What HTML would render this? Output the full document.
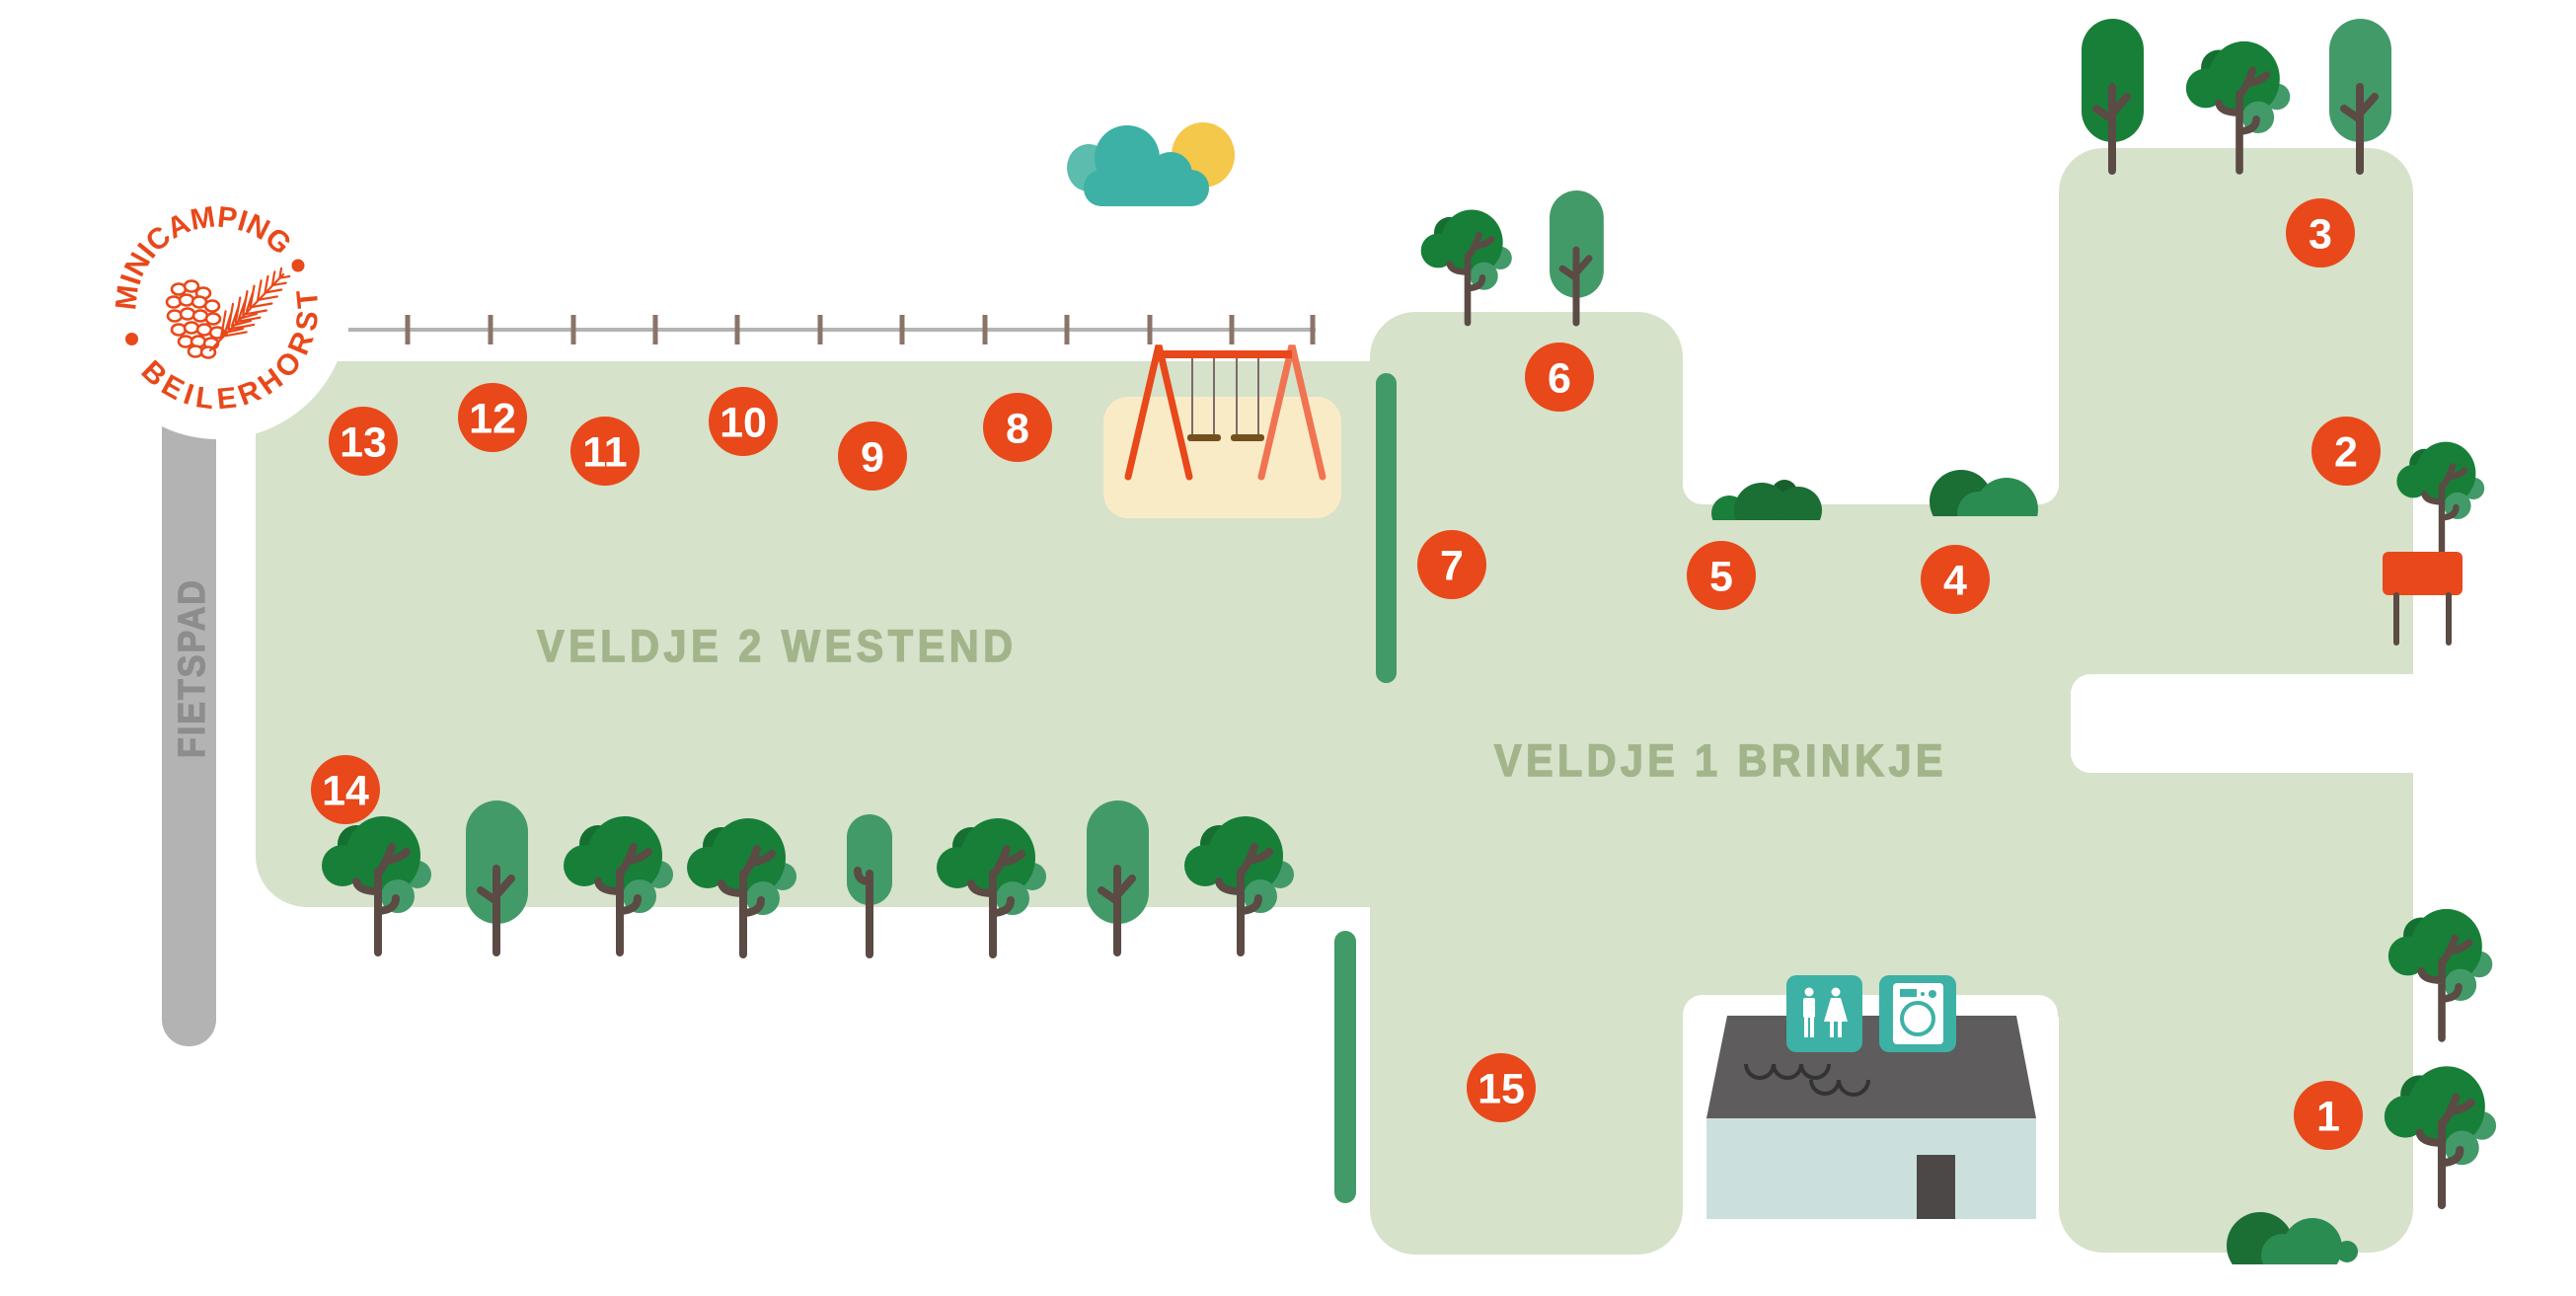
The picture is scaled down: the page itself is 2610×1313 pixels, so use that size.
<!DOCTYPE html>
<html><head><meta charset="utf-8"><style>
html,body{margin:0;padding:0;background:#fff;}
svg{display:block;}
text{font-family:"Liberation Sans",sans-serif;font-weight:bold;}
</style></head><body>
<svg width="2610" height="1313" viewBox="0 0 2610 1313" xmlns="http://www.w3.org/2000/svg">
<defs>
<g id="rt">
<circle cx="-22" cy="-110" r="19" fill="#146f30"/>
<circle cx="40" cy="-79" r="14" fill="#429a68"/>
<ellipse cx="5" cy="-98" rx="38" ry="40" fill="#177f38"/>
<circle cx="-36" cy="-88" r="21" fill="#177f38"/>
<circle cx="20" cy="-57" r="17" fill="#429a68"/>
<path d="M0,0 V-82 M0,-62 Q-20,-62 -22,-72 M0,-80 Q8,-90 14,-107 M8,-93 Q22,-95 29,-102 M0,-42 Q18,-43 18,-55" stroke="#5b4b44" stroke-width="8" fill="none" stroke-linecap="round"/>
</g>
<g id="tt">
<rect x="-31" y="-154" width="63" height="125" rx="31.5"/>
<path d="M0,0 V-85 M0,-52 L-16,-63 M0,-58 L15,-75" stroke="#5b4b44" stroke-width="8" fill="none" stroke-linecap="round"/>
</g>
<clipPath id="cA"><rect x="1700" y="440" width="200" height="87"/></clipPath>
<clipPath id="cB"><rect x="1930" y="440" width="160" height="83"/></clipPath>
<clipPath id="cC"><rect x="2230" y="1200" width="200" height="81"/></clipPath>
</defs>

<!-- fields -->
<g fill="#d6e2ca">
<rect x="259" y="366" width="1180" height="553" rx="52"/>
<rect x="1388" y="316" width="317" height="955" rx="46"/>
<rect x="2086" y="150" width="359" height="1119" rx="45"/>
<rect x="1690" y="490" width="410" height="540"/>
</g>
<g fill="#fff">
<rect x="1705" y="280" width="381" height="231" rx="20"/>
<rect x="1705" y="1008" width="380" height="350" rx="20"/>
<rect x="2098" y="683" width="450" height="100" rx="20"/>
</g>

<!-- fietspad -->
<rect x="164" y="400" width="55" height="660" rx="27" fill="#b3b3b3"/>
<text transform="translate(207,678) rotate(-90) scale(0.9,1)" text-anchor="middle" font-size="38" fill="#8d8d8d" stroke="#8d8d8d" stroke-width="1.2" textLength="200" lengthAdjust="spacing">FIETSPAD</text>

<!-- logo -->
<circle cx="221" cy="313" r="132" fill="#fff"/>
<path id="lt" d="M138,314.9 A82,82 0 0 1 284.6,261.5" fill="none"/>
<path id="lb" d="M141.9,377.6 A102,102 0 0 0 319.6,289.9" fill="none"/>
<text font-size="30" fill="#e8481a"><textPath href="#lt" textLength="204" lengthAdjust="spacingAndGlyphs">MINICAMPING</textPath></text>
<text font-size="30" fill="#e8481a"><textPath href="#lb" textLength="268" lengthAdjust="spacing">BEILERHORST</textPath></text>
<circle cx="133.5" cy="343.5" r="6.5" fill="#e8481a"/>
<circle cx="302" cy="269" r="6.5" fill="#e8481a"/>
<g fill="#fff" stroke="#e8481a" stroke-width="2.6">
<ellipse cx="181" cy="293" rx="7" ry="5.5"/><ellipse cx="194" cy="290" rx="7" ry="5.5"/><ellipse cx="206" cy="297" rx="7" ry="5.5"/>
<ellipse cx="176" cy="306" rx="7" ry="5.5"/><ellipse cx="189" cy="304" rx="7" ry="5.5"/><ellipse cx="202" cy="306" rx="7" ry="5.5"/><ellipse cx="215" cy="310" rx="7" ry="5.5"/>
<ellipse cx="177" cy="320" rx="7" ry="5.5"/><ellipse cx="190" cy="318" rx="7" ry="5.5"/><ellipse cx="203" cy="320" rx="7" ry="5.5"/><ellipse cx="216" cy="323" rx="7" ry="5.5"/>
<ellipse cx="181" cy="334" rx="7" ry="5.5"/><ellipse cx="194" cy="332" rx="7" ry="5.5"/><ellipse cx="207" cy="334" rx="7" ry="5.5"/><ellipse cx="220" cy="337" rx="7" ry="5.5"/>
<ellipse cx="188" cy="346" rx="7" ry="5.5"/><ellipse cx="201" cy="346" rx="7" ry="5.5"/><ellipse cx="214" cy="348" rx="7" ry="5.5"/>
<ellipse cx="198" cy="356" rx="7" ry="5.5"/><ellipse cx="211" cy="357" rx="7" ry="5.5"/>
</g>
<path d="M213,355 L287,278 M224.1,340.9 L228.6,315.3 M231.5,333.5 L236,307.9 M238.9,326.1 L243.3,301.5 M246.3,318.7 L250.5,295.1 M253.7,311.3 L257.5,289.6 M261.1,303.9 L264.6,284.2 M268.5,296.5 L271.5,279.8 M275.9,289.1 L278.3,275.3 M283.3,281.7 L285,271.8 M224.1,340.9 L249.7,336.4 M231.5,333.5 L257.1,329 M238.9,326.1 L263.5,321.7 M246.3,318.7 L269.9,314.5 M253.7,311.3 L275.4,307.5 M261.1,303.9 L280.8,300.4 M268.5,296.5 L285.2,293.5 M275.9,289.1 L289.7,286.7 M283.3,281.7 L293.2,280 M228,337 L234,318 M235,330 L242,310 M242,323 L249,303 M250,315 L256,297 M228,337 L246,333 M235,330 L254,325 M242,323 L260,318" stroke="#e8481a" stroke-width="2.2" fill="none" stroke-linecap="round"/>

<!-- fence -->
<line x1="353" y1="334" x2="1333" y2="334" stroke="#b3b3b3" stroke-width="4"/>
<g stroke="#8a7468" stroke-width="5">
<line x1="413" y1="319" x2="413" y2="349"/><line x1="497" y1="319" x2="497" y2="349"/><line x1="581" y1="319" x2="581" y2="349"/><line x1="664" y1="319" x2="664" y2="349"/><line x1="747" y1="319" x2="747" y2="349"/><line x1="831" y1="319" x2="831" y2="349"/><line x1="914" y1="319" x2="914" y2="349"/><line x1="998" y1="319" x2="998" y2="349"/><line x1="1081" y1="319" x2="1081" y2="349"/><line x1="1165" y1="319" x2="1165" y2="349"/><line x1="1248" y1="319" x2="1248" y2="349"/><line x1="1330" y1="319" x2="1330" y2="349"/>
</g>

<!-- cloud & sun -->
<ellipse cx="1219" cy="157" rx="32" ry="33" fill="#f4c84a"/>
<ellipse cx="1103" cy="170" rx="22" ry="24" fill="#5cbcae"/>
<g fill="#3db1a5">
<circle cx="1142" cy="160" r="33"/>
<circle cx="1186" cy="176" r="22"/>
<rect x="1098" y="172" width="127" height="37" rx="18"/>
</g>

<!-- sandbox & swing -->
<rect x="1118" y="402" width="241" height="123" rx="25" fill="#faebc7"/>
<g stroke="#7d6a6b" stroke-width="2">
<line x1="1208" y1="362" x2="1208" y2="442"/><line x1="1230" y1="362" x2="1230" y2="442"/><line x1="1253" y1="362" x2="1253" y2="442"/><line x1="1275" y1="362" x2="1275" y2="442"/>
</g>
<rect x="1203" y="440" width="34" height="7" rx="3" fill="#74501f"/>
<rect x="1247" y="440" width="34" height="7" rx="3" fill="#74501f"/>
<g stroke-width="7" stroke-linecap="round">
<path d="M1143,483 L1174,350 L1205,483" stroke="#e8481a" fill="none"/>
<path d="M1278,483 L1309,350 L1340,483" stroke="#f07452" fill="none"/>
</g>
<rect x="1174" y="355" width="135" height="8" fill="#e8481a"/>

<!-- green bars -->
<rect x="1394" y="378" width="21" height="314" rx="10.5" fill="#429a68"/>
<rect x="1352" y="943" width="22" height="276" rx="11" fill="#429a68"/>

<!-- labels -->
<text transform="translate(544,670) scale(0.92,1)" font-size="45" fill="#a2b48a" stroke="#a2b48a" stroke-width="1.4" textLength="524" lengthAdjust="spacing">VELDJE 2 WESTEND</text>
<text transform="translate(1514,786) scale(0.92,1)" font-size="45" fill="#a2b48a" stroke="#a2b48a" stroke-width="1.4" textLength="494" lengthAdjust="spacing">VELDJE 1 BRINKJE</text>

<!-- building -->
<polygon points="1750,1029 2043,1029 2063,1133 1729,1133" fill="#5e5c5d"/>
<rect x="1729" y="1133" width="334" height="102" fill="#cbe0dc"/>
<rect x="1942" y="1170" width="39" height="65" fill="#4b4847"/>
<path d="M1769,1078 a14,14 0 0 0 28,0 a14,14 0 0 0 28,0 a14,14 0 0 0 28,0 M1835,1094 a14,14 0 0 0 28,0 a15,15 0 0 0 30,0" stroke="#333" stroke-width="4" fill="none"/>
<rect x="1810" y="988" width="77" height="78" rx="10" fill="#3db1a5"/>
<g fill="#fff">
<circle cx="1833" cy="1005" r="4.5"/>
<rect x="1827" y="1011" width="12" height="20" rx="2"/>
<rect x="1828" y="1029" width="4" height="22"/><rect x="1834" y="1029" width="4" height="22"/>
<circle cx="1860" cy="1005" r="4.5"/>
<polygon points="1855,1011 1865,1011 1872,1035 1848,1035"/>
<rect x="1854" y="1034" width="4" height="17"/><rect x="1862" y="1034" width="4" height="17"/>
</g>
<rect x="1904" y="988" width="78" height="78" rx="10" fill="#3db1a5"/>
<rect x="1918" y="996" width="51" height="62" rx="4" fill="#fff"/>
<rect x="1925" y="1002" width="17" height="8" fill="#3db1a5"/>
<circle cx="1948" cy="1007" r="2" fill="#3db1a5"/>
<circle cx="1958" cy="1007" r="4" fill="#3db1a5"/>
<circle cx="1943" cy="1032" r="16" fill="none" stroke="#3db1a5" stroke-width="4"/>

<!-- bushes -->
<g clip-path="url(#cA)">
<circle cx="1808" cy="499" r="13" fill="#185f2d"/>
<circle cx="1752" cy="520" r="18" fill="#1a7f3a"/>
<circle cx="1785" cy="517" r="28" fill="#1b6e34"/>
<circle cx="1822" cy="517" r="24" fill="#1b6e34"/>
</g>
<g clip-path="url(#cB)">
<circle cx="1987" cy="508" r="32" fill="#1b6e34"/>
<circle cx="2033" cy="516" r="32" fill="#2b8c51"/>
<circle cx="2005" cy="520" r="22" fill="#2b8c51"/>
</g>
<g clip-path="url(#cC)">
<circle cx="2290" cy="1262" r="34" fill="#1b6e34"/>
<circle cx="2343" cy="1264" r="30" fill="#2b8c51"/>
<circle cx="2378" cy="1268" r="11" fill="#2b8c51"/>
<circle cx="2313" cy="1272" r="22" fill="#2b8c51"/>
</g>

<!-- markers -->
<g fill="#e8481a">
<circle cx="2359" cy="1130" r="35"/><circle cx="2377" cy="457" r="35"/><circle cx="2351" cy="236" r="35"/>
<circle cx="1981" cy="587" r="35"/><circle cx="1744" cy="583" r="35"/><circle cx="1580" cy="382" r="35"/>
<circle cx="1471" cy="572" r="35"/><circle cx="1031" cy="433" r="35"/><circle cx="884" cy="462" r="35"/>
<circle cx="753" cy="427" r="35"/><circle cx="613" cy="457" r="35"/><circle cx="499" cy="423" r="35"/>
<circle cx="368" cy="447" r="35"/><circle cx="350" cy="800" r="35"/><circle cx="1521" cy="1102" r="35"/>
</g>
<g fill="#fff" font-size="43" text-anchor="middle">
<text x="2359" y="1145.5">1</text><text x="2377" y="472.5">2</text><text x="2351" y="251.5">3</text>
<text x="1981" y="602.5">4</text><text x="1744" y="598.5">5</text><text x="1580" y="397.5">6</text>
<text x="1471" y="587.5">7</text><text x="1031" y="448.5">8</text><text x="884" y="477.5">9</text>
<text x="753" y="442.5">10</text><text x="613" y="472.5">11</text><text x="499" y="438.5">12</text>
<text x="368" y="462.5">13</text><text x="350" y="815.5">14</text><text x="1521" y="1117.5">15</text>
</g>

<!-- trees bottom row -->
<use href="#rt" transform="translate(383,965)"/>
<use href="#tt" transform="translate(503,965)" fill="#429a68"/>
<use href="#rt" transform="translate(628,965)"/>
<use href="#rt" transform="translate(753,967)"/>
<rect x="858" y="825" width="46" height="92" rx="23" fill="#429a68"/>
<path d="M881,967 V885 M881,893 Q869,893 869,882" stroke="#5b4b44" stroke-width="8" fill="none" stroke-linecap="round"/>
<use href="#rt" transform="translate(1006,967)"/>
<use href="#tt" transform="translate(1132,965)" fill="#429a68"/>
<use href="#rt" transform="translate(1257,965)"/>

<!-- trees top -->
<use href="#rt" transform="translate(1487,327) scale(0.83)"/>
<use href="#tt" transform="translate(1597,327) scale(0.87)" fill="#429a68"/>
<use href="#tt" transform="translate(2140,173)" fill="#177f38"/>
<use href="#rt" transform="translate(2269,173) scale(0.95)"/>
<use href="#tt" transform="translate(2391,173)" fill="#429a68"/>

<!-- right side -->
<use href="#rt" transform="translate(2474,558) scale(0.8)"/>
<rect x="2414" y="559" width="81" height="44" rx="6" fill="#e8481a"/>
<line x1="2428" y1="603" x2="2428" y2="651" stroke="#5b4b44" stroke-width="6" stroke-linecap="round"/>
<line x1="2481" y1="603" x2="2481" y2="651" stroke="#5b4b44" stroke-width="6" stroke-linecap="round"/>
<use href="#rt" transform="translate(2474,1052) scale(0.95)"/>
<use href="#rt" transform="translate(2474,1221) scale(1.02)"/>
</svg>
</body></html>
